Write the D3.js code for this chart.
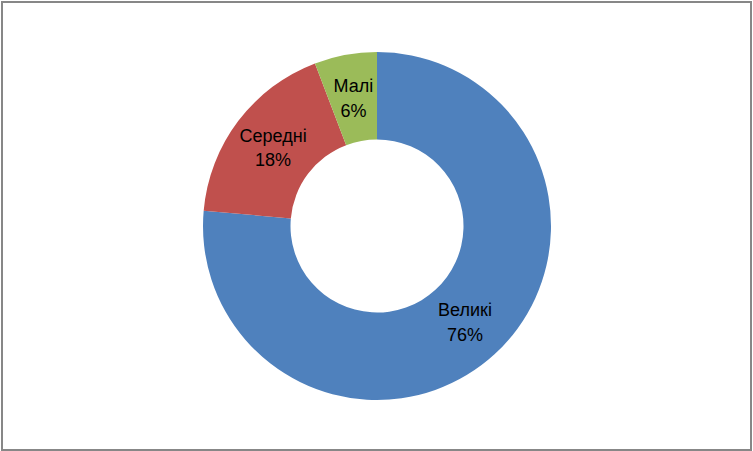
<!DOCTYPE html>
<html>
<head>
<meta charset="utf-8">
<script src="https://cdn.jsdelivr.net/npm/d3@7"></script>
<style>
  body { margin: 0; background: #fff; }
  svg { display: block; }
  .lbl { font-family: "Liberation Sans", Arial, sans-serif; font-size: 18px; fill: #000; }
</style>
</head>
<body>
<div id="chart"></div>
<script>
// sector names and shares (%)
const categories = ["Великі", "Середні", "Малі"];
const shares = [76.4, 17.8, 5.8];
const colors = ["#4f81bd", "#c0504d", "#9bbb59"];

const width = 753, height = 451;
const cx = 377, cy = 226;
const outerR = 174, innerR = 86.5;

const svg = d3.select("#chart")
  .append("svg")
  .attr("width", width)
  .attr("height", height);

// chart frame
svg.append("rect")
  .attr("x", 2)
  .attr("y", 2)
  .attr("width", 749)
  .attr("height", 448)
  .attr("fill", "#fff")
  .attr("stroke", "#878787")
  .attr("stroke-width", 2);

const data = categories.map((c, i) => ({name: c, value: shares[i], color: colors[i]}));

const pie = d3.pie()
  .value(d => d.value)
  .sort(null);

const arc = d3.arc()
  .innerRadius(innerR)
  .outerRadius(outerR);

const g = svg.append("g")
  .attr("transform", "translate(" + cx + "," + cy + ")");

const arcs = pie(data);

g.selectAll("path.slice")
  .data(arcs)
  .enter()
  .append("path")
  .attr("class", "slice")
  .attr("d", arc)
  .attr("fill", d => d.data.color);

const total = d3.sum(shares);

const labels = g.selectAll("text.lbl")
  .data(arcs)
  .enter()
  .append("text")
  .attr("class", "lbl")
  .attr("text-anchor", "middle")
  .attr("transform", d => "translate(" + arc.centroid(d) + ")");

labels.append("tspan")
  .attr("x", 0)
  .attr("dy", "-0.31em")
  .text(d => d.data.name);

labels.append("tspan")
  .attr("x", 0)
  .attr("dy", "1.36em")
  .text(d => Math.round(d.data.value / total * 100) + "%");
</script>
</body>
</html>
